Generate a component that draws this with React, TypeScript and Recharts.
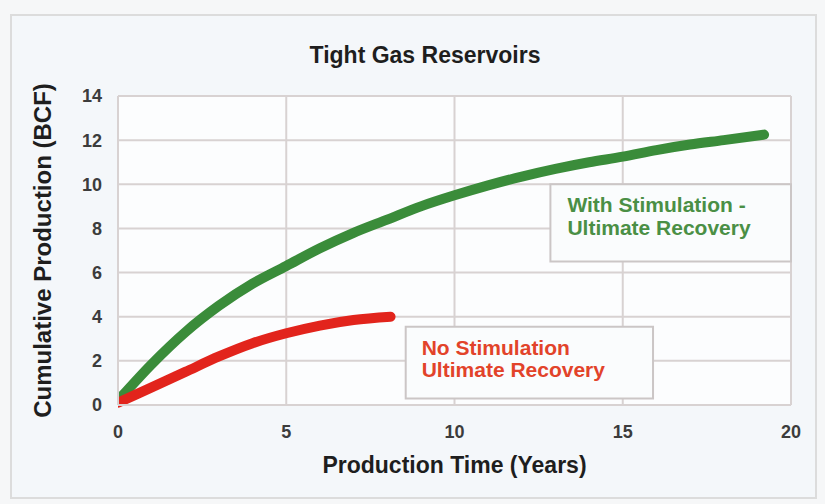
import React from 'react';
import {
  LineChart,
  Line,
  XAxis,
  YAxis,
  CartesianGrid,
  ReferenceArea,
} from 'recharts';

const chartTitle = 'Tight Gas Reservoirs';
const xTitle = 'Production Time (Years)';
const yTitle = 'Cumulative Production (BCF)';

const xTicks = [0, 5, 10, 15, 20];
const yTicks = [0, 2, 4, 6, 8, 10, 12, 14];

const stimYears = [0, 1, 2, 3, 4, 5, 6, 7, 8, 9, 10, 11, 12, 13, 14, 15, 16, 17, 18, 19.2];
const stimValues = [0.2, 1.85, 3.3, 4.5, 5.5, 6.3, 7.1, 7.8, 8.4, 9.0, 9.5, 9.95, 10.35, 10.7, 11.0, 11.25, 11.55, 11.8, 12.0, 12.25];

const noStimYears = [0, 1, 2, 3, 4, 5, 6, 7, 8.1];
const noStimValues = [0.1, 0.8, 1.5, 2.2, 2.8, 3.25, 3.6, 3.85, 4.0];

const stimLabel = ['With Stimulation -', 'Ultimate Recovery'];
const noStimLabel = ['No Stimulation', 'Ultimate Recovery'];

const stimData = stimYears.map((x, i) => ({ x, y: stimValues[i] }));
const noStimData = noStimYears.map((x, i) => ({ x, y: noStimValues[i] }));

const FONT = '"Liberation Sans", Arial, Helvetica, sans-serif';
const GREEN = '#3a8c3a';
const RED = '#e2241c';
const GRID = '#d8d2d2';

const makeLabel = (lines: string[], color: string, dx: number, dy: number, gap: number) =>
  (props: any) => {
    const vb = props.viewBox || {};
    return (
      <g>
        {lines.map((t, i) => (
          <text
            key={i}
            x={vb.x + dx}
            y={vb.y + dy + i * gap}
            fill={color}
            fontSize={21}
            fontWeight="bold"
            fontFamily={FONT}
          >
            {t}
          </text>
        ))}
      </g>
    );
  };

export default function App() {
  return (
    <div
      style={{
        position: 'absolute',
        left: 0,
        top: 0,
        width: 825,
        height: 504,
        background: '#f6f7f8',
        fontFamily: FONT,
      }}
    >
      <div
        style={{
          position: 'absolute',
          left: 10,
          top: 14,
          width: 803,
          height: 481,
          border: '2px solid #dcdcdc',
          background: '#f4f7fa',
        }}
      />
      <div
        style={{
          position: 'absolute',
          left: 0,
          top: 43,
          width: 850,
          textAlign: 'center',
          fontSize: 23,
          fontWeight: 'bold',
          lineHeight: '24px',
          color: '#1e1e1e',
        }}
      >
        {chartTitle}
      </div>
      <div style={{ position: 'absolute', left: 0, top: 0 }}>
        <LineChart
          width={825}
          height={504}
          margin={{ top: 96, right: 34, left: 58, bottom: 69 }}
        >
          <CartesianGrid
            stroke={GRID}
            strokeWidth={2}
            fill="#fcfdfe"
            horizontal
            vertical
          />
          <XAxis
            type="number"
            dataKey="x"
            domain={[0, 20]}
            ticks={xTicks}
            allowDataOverflow
            height={30}
            tickSize={0}
            tickMargin={20}
            axisLine={{ stroke: GRID, strokeWidth: 2 }}
            tickLine={false}
            tick={{ fill: '#3c3c3c', fontSize: 18, fontWeight: 'bold', fontFamily: FONT }}
            label={{
              value: xTitle,
              position: 'bottom',
              offset: 22,
              style: { fill: '#1e1e1e', fontSize: 23, fontWeight: 'bold', fontFamily: FONT },
            }}
          />
          <YAxis
            type="number"
            domain={[0, 14]}
            ticks={yTicks}
            width={60}
            tickSize={0}
            tickMargin={16}
            axisLine={{ stroke: GRID, strokeWidth: 2 }}
            tickLine={false}
            tick={{ fill: '#3c3c3c', fontSize: 18, fontWeight: 'bold', fontFamily: FONT }}
            label={{
              value: yTitle,
              angle: -90,
              position: 'insideLeft',
              offset: -16,
              style: {
                textAnchor: 'middle',
                fill: '#1e1e1e',
                fontSize: 24,
                fontWeight: 'bold',
                fontFamily: FONT,
              },
            }}
          />
          <ReferenceArea
            x1={12.85}
            x2={20}
            y1={6.5}
            y2={10}
            fill="#fafcfd"
            fillOpacity={1}
            stroke="#cbc6c6"
            strokeWidth={2}
            label={makeLabel(stimLabel, '#4a8f45', 17, 28, 23)}
          />
          <ReferenceArea
            x1={8.55}
            x2={15.9}
            y1={0.3}
            y2={3.55}
            fill="#fafcfd"
            fillOpacity={1}
            stroke="#cbc6c6"
            strokeWidth={2}
            label={makeLabel(noStimLabel, '#e2432a', 16, 28, 22)}
          />
          <Line
            data={stimData}
            dataKey="y"
            type="monotone"
            stroke={GREEN}
            strokeWidth={10}
            strokeLinecap="round"
            dot={false}
            activeDot={false}
            isAnimationActive={false}
          />
          <Line
            data={noStimData}
            dataKey="y"
            type="monotone"
            stroke={RED}
            strokeWidth={10}
            strokeLinecap="round"
            dot={false}
            activeDot={false}
            isAnimationActive={false}
          />
        </LineChart>
      </div>
    </div>
  );
}
